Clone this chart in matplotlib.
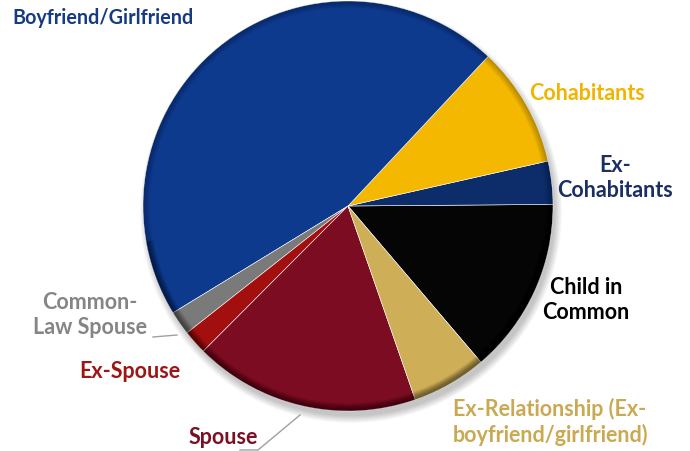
"""Relationship of victim to offender - pie chart."""
import matplotlib.pyplot as plt
from matplotlib.patches import Circle, Wedge

# ── data (drawn counter-clockwise, starting at -49.6 deg) ─────────────────────
labels = ["Child in\nCommon", "Ex-\nCohabitants", "Cohabitants", "Boyfriend/Girlfriend",
          "Common-\nLaw Spouse", "Ex-Spouse", "Spouse",
          "Ex-Relationship (Ex-\nboyfriend/girlfriend)"]
shares = [13.9, 3.4, 9.5, 45.7, 1.9, 1.9, 17.8, 5.9]
slice_colors = ["#050505", "#0C2C6A", "#F4B800", "#0E3A8E",
                "#7A7A7A", "#A30F0E", "#7C0C21", "#CFAE58"]
text_colors = ["#000000", "#1A2F63", "#F2B400", "#173A84",
               "#858585", "#9E1515", "#7B1024", "#C9A952"]
# label anchor (pixel coords, y from top) and alignment
label_pos = [(586, 300), (615, 178), (587, 93), (12, 18),
             (90, 315), (130, 371), (223, 438), (550, 422)]
label_ha = ["center", "center", "center", "left",
            "center", "center", "center", "center"]
label_size = [15.5, 15.5, 15.5, 14.2, 15.5, 15.5, 15.5, 15.5]

W, H = 690, 451
CX, CY, R = 348, 206, 205
START = 49.6

fig = plt.figure(figsize=(W / 100, H / 100), dpi=100)
ax = fig.add_axes([0, 0, 1, 1])
ax.set_xlim(0, W)
ax.set_ylim(H, 0)
ax.set_aspect("equal")
ax.axis("off")

# soft drop shadow
for i in range(10):
    ax.add_patch(Circle((CX + 3, CY + 6), R + 6 - i * 0.8, color="black",
                        alpha=0.025, lw=0, zorder=0))

# y axis is inverted, so counter-clockwise on screen = clockwise in data
angle = START
for share, col in zip(shares, slice_colors):
    sweep = share * 3.6
    ax.add_patch(Wedge((CX, CY), R, angle - sweep, angle, facecolor=col,
                       edgecolor="white", lw=0.4, zorder=2))
    angle -= sweep

# bevel: darker rim towards the edge, stronger at the bottom
for i in range(6):
    ax.add_patch(Wedge((CX, CY), R, 0, 360, width=7 - i, facecolor="black",
                       alpha=0.04, lw=0, zorder=3))
    ax.add_patch(Wedge((CX, CY), R, 10, 170, width=8 - i, facecolor="black",
                       alpha=0.05, lw=0, zorder=3))

# leader lines
ax.plot([240, 258, 300], [450, 450, 415], color="#A0A0A0", lw=1, zorder=1)
ax.plot([153, 177], [337, 335], color="#A0A0A0", lw=1, zorder=4)

for lab, (x, y), ha, tc, fs in zip(labels, label_pos, label_ha, text_colors, label_size):
    ax.text(x, y, lab, ha=ha, va="center", color=tc, fontsize=fs,
            fontweight="bold", family="Lato", linespacing=1.2, zorder=5)

fig.savefig("out.png", dpi=100)
